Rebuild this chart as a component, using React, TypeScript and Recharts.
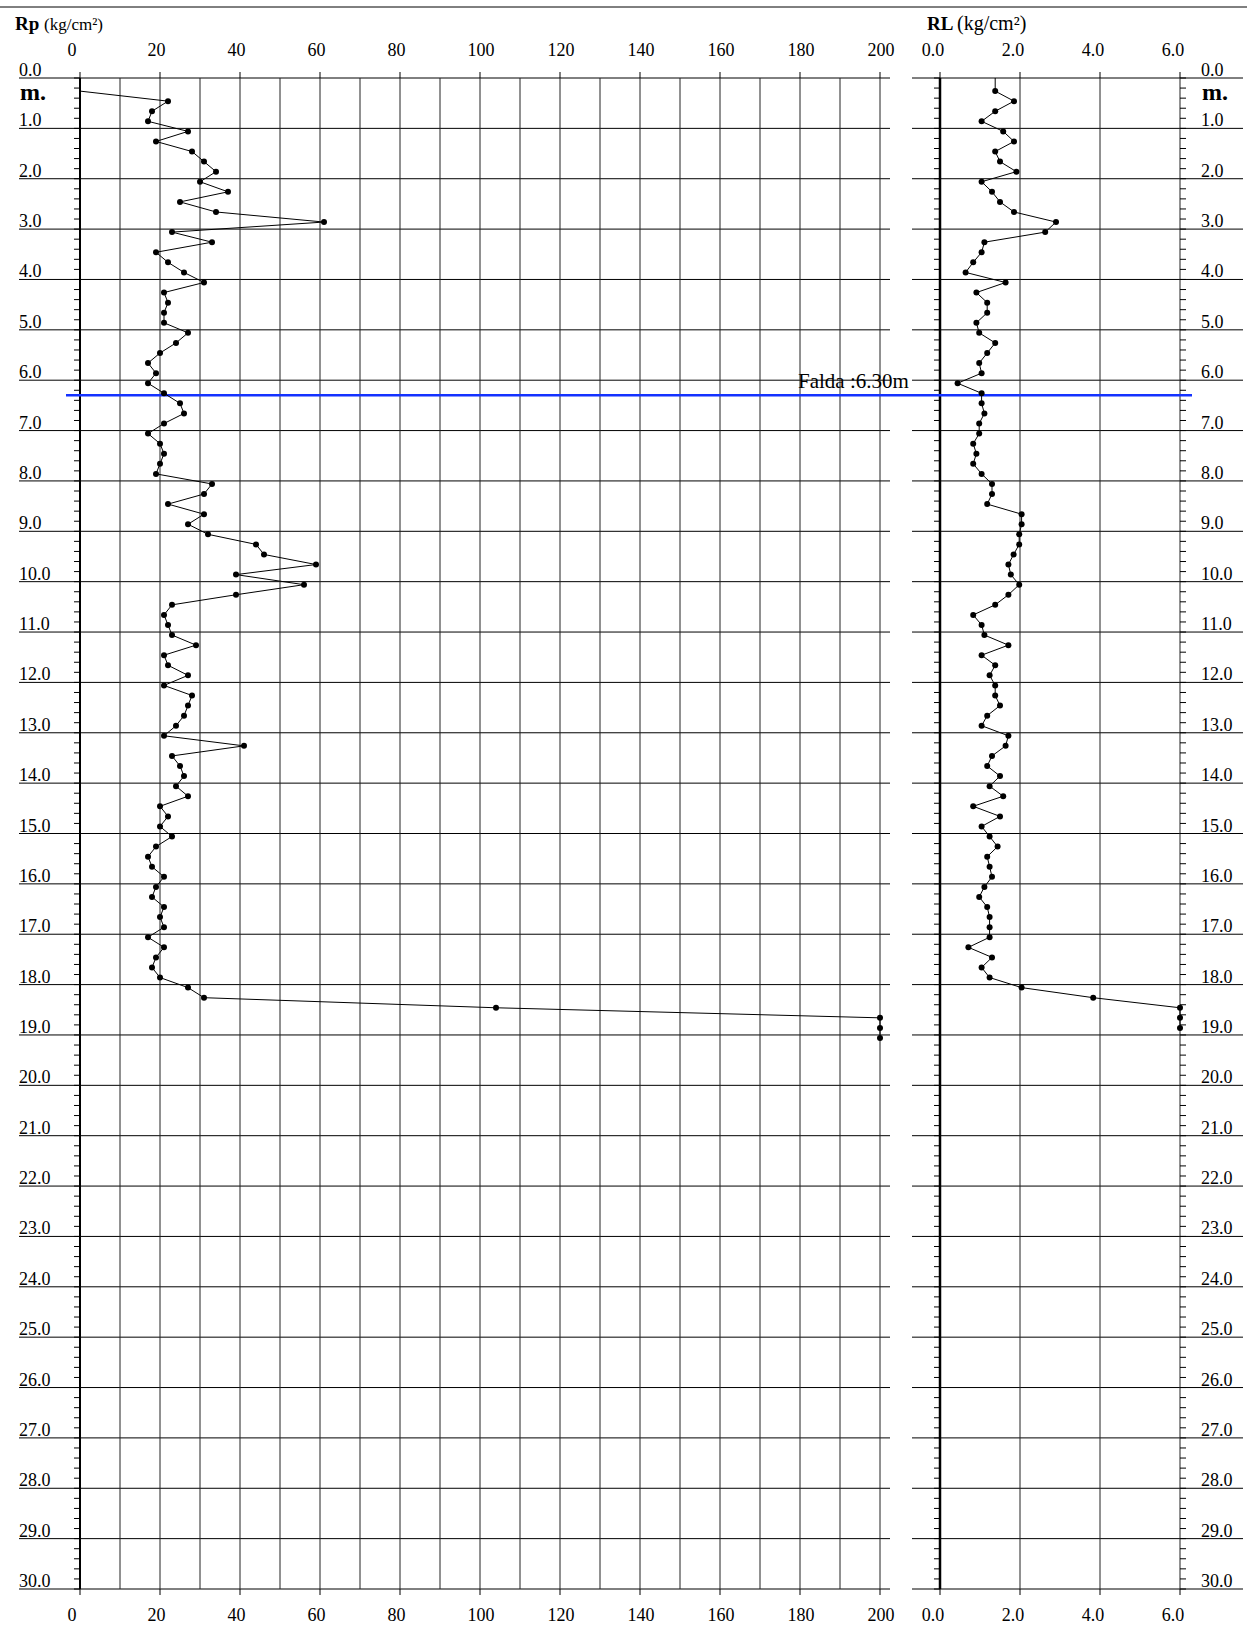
import { ScatterChart, Scatter, XAxis, YAxis, ReferenceLine } from "recharts";

// depth of each reading, m
const DEPTH = [
  0.26, 0.46, 0.66, 0.86, 1.06, 1.26, 1.46, 1.66, 1.86, 2.06,
  2.26, 2.46, 2.66, 2.86, 3.06, 3.26, 3.46, 3.66, 3.86, 4.06,
  4.26, 4.46, 4.66, 4.86, 5.06, 5.26, 5.46, 5.66, 5.86, 6.06,
  6.26, 6.46, 6.66, 6.86, 7.06, 7.26, 7.46, 7.66, 7.86, 8.06,
  8.26, 8.46, 8.66, 8.86, 9.06, 9.26, 9.46, 9.66, 9.86, 10.06,
  10.26, 10.46, 10.66, 10.86, 11.06, 11.26, 11.46, 11.66, 11.86, 12.06,
  12.26, 12.46, 12.66, 12.86, 13.06, 13.26, 13.46, 13.66, 13.86, 14.06,
  14.26, 14.46, 14.66, 14.86, 15.06, 15.26, 15.46, 15.66, 15.86, 16.06,
  16.26, 16.46, 16.66, 16.86, 17.06, 17.26, 17.46, 17.66, 17.86, 18.06,
  18.26, 18.46, 18.66, 18.86, 19.06,
];

// Rp (kg/cm²), RP[i] is read at DEPTH[i + 1]
const RP = [
  22, 18, 17, 27, 19, 28, 31, 34, 30, 37,
  25, 34, 61, 23, 33, 19, 22, 26, 31, 21,
  22, 21, 21, 27, 24, 20, 17, 19, 17, 21,
  25, 26, 21, 17, 20, 21, 20, 19, 33, 31,
  22, 31, 27, 32, 44, 46, 59, 39, 56, 39,
  23, 21, 22, 23, 29, 21, 22, 27, 21, 28,
  27, 26, 24, 21, 41, 23, 25, 26, 24, 27,
  20, 22, 20, 23, 19, 17, 18, 21, 19, 18,
  21, 20, 21, 17, 21, 19, 18, 20, 27, 31,
  104, 200, 200, 200,
];

// RL (kg/cm²), RL[i] is read at DEPTH[i]
const RL = [
  1.38, 1.85, 1.38, 1.04, 1.58, 1.85, 1.38, 1.5, 1.91, 1.04,
  1.3, 1.5, 1.85, 2.9, 2.63, 1.11, 1.04, 0.83, 0.64, 1.64,
  0.91, 1.18, 1.18, 0.91, 0.98, 1.38, 1.18, 0.98, 1.04, 0.44,
  1.04, 1.04, 1.11, 0.98, 0.98, 0.83, 0.91, 0.83, 1.04, 1.3,
  1.3, 1.18, 2.04, 2.04, 1.98, 1.98, 1.84, 1.71, 1.77, 1.98,
  1.71, 1.38, 0.83, 1.04, 1.11, 1.71, 1.04, 1.38, 1.24, 1.38,
  1.38, 1.5, 1.18, 1.04, 1.71, 1.64, 1.3, 1.18, 1.5, 1.24,
  1.58, 0.83, 1.5, 1.04, 1.24, 1.44, 1.18, 1.24, 1.3, 1.11,
  0.98, 1.18, 1.24, 1.24, 1.24, 0.71, 1.3, 1.04, 1.24, 2.04,
  3.83, 6.0, 6.0, 6.0,
];

const RP_TICKS = [0, 20, 40, 60, 80, 100, 120, 140, 160, 180, 200];
const RP_GRID = [10, 20, 30, 40, 50, 60, 70, 80, 90, 100, 110, 120, 130, 140, 150, 160, 170, 180, 190, 200];
const RL_TICKS = [0, 2, 4, 6];
const RL_GRID = [2, 4, 6];
const DEPTH_LINES = [
  0, 1, 2, 3, 4, 5, 6, 7, 8, 9, 10, 11, 12, 13, 14, 15,
  16, 17, 18, 19, 20, 21, 22, 23, 24, 25, 26, 27, 28, 29, 30,
];
const WATER_TABLE = 6.3;

// small depth ticks every 20 cm
const MINOR = Array.from({ length: 151 }, (_, i) => Math.round(i * 2) / 10);

const FONT = '"Liberation Serif", "Times New Roman", Times, serif';
const TICK_FS = 18;

const rpData = RP.map((v, i) => ({ x: v, y: DEPTH[i + 1] }));
const rlData = RL.map((v, i) => ({ x: v, y: DEPTH[i] }));
const rpLead = [{ x: 0, y: DEPTH[0] }, rpData[0]];
const rlLead = [{ x: RL[0], y: 0 }, rlData[0]];

const Dot = (p: any) => <circle cx={p.cx} cy={p.cy} r={3} fill="#000" />;
const NoDot = () => <g />;
const NoTick = () => <g />;

const isWhole = (v: number) => Math.abs(v - Math.round(v)) < 1e-6;

function depthTick(labelX: number) {
  return (p: any) => {
    const v = p.payload.value;
    if (!isWhole(v)) return <g />;
    return (
      <g>
        <text x={labelX} y={p.y - 2} fontSize={TICK_FS} fontFamily={FONT} fill="#000">
          {v.toFixed(1)}
        </text>
        {v === 0 && (
          <text x={labelX + 1} y={100} fontSize={24} fontWeight="bold" fontFamily={FONT} fill="#000">
            m.
          </text>
        )}
      </g>
    );
  };
}

const rpTopTick = (p: any) => (
  <text x={p.x - 12.5} y={56} fontSize={TICK_FS} fontFamily={FONT} textAnchor="start" fill="#000">
    {p.payload.value}
  </text>
);
const rpBottomTick = (p: any) => (
  <text x={p.x - 12.5} y={1621} fontSize={TICK_FS} fontFamily={FONT} textAnchor="start" fill="#000">
    {p.payload.value}
  </text>
);
const rlTopTick = (p: any) => (
  <text x={p.x - 7} y={56} fontSize={TICK_FS} fontFamily={FONT} textAnchor="middle" fill="#000">
    {p.payload.value.toFixed(1)}
  </text>
);
const rlBottomTick = (p: any) => (
  <text x={p.x - 7} y={1621} fontSize={TICK_FS} fontFamily={FONT} textAnchor="middle" fill="#000">
    {p.payload.value.toFixed(1)}
  </text>
);

function RpChart() {
  return (
    <ScatterChart width={910} height={1628} margin={{ top: 38, right: 30, bottom: 9, left: 70 }}>
      <XAxis
        xAxisId="top"
        orientation="top"
        type="number"
        dataKey="x"
        domain={[0, 200]}
        ticks={RP_TICKS}
        interval={0}
        height={40}
        axisLine={false}
        tickLine={{ stroke: "#000" }}
        tickSize={6}
        tick={rpTopTick}
      />
      <XAxis
        type="number"
        dataKey="x"
        domain={[0, 200]}
        ticks={RP_TICKS}
        interval={0}
        height={30}
        axisLine={false}
        tickLine={{ stroke: "#000" }}
        tickSize={6}
        tick={rpBottomTick}
      />
      <YAxis
        type="number"
        dataKey="y"
        domain={[0, 30]}
        reversed
        ticks={MINOR}
        interval={0}
        width={10}
        axisLine={false}
        tickLine={{ stroke: "#000" }}
        tickSize={6}
        tick={depthTick(19)}
      />
      {DEPTH_LINES.map((d) => (
        <ReferenceLine
          key={"h" + d}
          segment={[{ x: -15.25, y: d }, { x: 202.5, y: d }]}
          stroke="#000"
          ifOverflow="visible"
        />
      ))}
      {RP_GRID.map((v) => (
        <ReferenceLine key={"v" + v} x={v} stroke="#222" />
      ))}
      <ReferenceLine x={0} stroke="#000" strokeWidth={2} />
      <ReferenceLine
        segment={[{ x: -3.5, y: WATER_TABLE }, { x: 205, y: WATER_TABLE }]}
        stroke="#1432ff"
        strokeWidth={2.5}
        ifOverflow="visible"
      />
      {/* keeps the top axis bound to the data */}
      <Scatter xAxisId="top" data={rpData} shape={NoDot} isAnimationActive={false} />
      <Scatter data={rpLead} line={{ stroke: "#000", strokeWidth: 1 }} shape={NoDot} isAnimationActive={false} />
      <Scatter data={rpData} line={{ stroke: "#000", strokeWidth: 1 }} shape={Dot} isAnimationActive={false} />
    </ScatterChart>
  );
}

function RlChart() {
  return (
    <ScatterChart width={347} height={1628} margin={{ top: 38, right: 57, bottom: 9, left: 30 }}>
      <XAxis
        xAxisId="top"
        orientation="top"
        type="number"
        dataKey="x"
        domain={[0, 6]}
        ticks={RL_TICKS}
        interval={0}
        height={40}
        axisLine={false}
        tickLine={{ stroke: "#000" }}
        tickSize={6}
        tick={rlTopTick}
      />
      <XAxis
        type="number"
        dataKey="x"
        domain={[0, 6]}
        ticks={RL_TICKS}
        interval={0}
        height={30}
        axisLine={false}
        tickLine={{ stroke: "#000" }}
        tickSize={6}
        tick={rlBottomTick}
      />
      <YAxis
        type="number"
        dataKey="y"
        domain={[0, 30]}
        reversed
        ticks={MINOR}
        interval={0}
        width={10}
        axisLine={false}
        tickLine={{ stroke: "#000" }}
        tickSize={6}
        tick={NoTick}
      />
      <YAxis
        yAxisId="r"
        orientation="right"
        type="number"
        dataKey="y"
        domain={[0, 30]}
        reversed
        ticks={MINOR}
        interval={0}
        width={10}
        axisLine={false}
        tickLine={{ stroke: "#000" }}
        tickSize={6}
        tick={depthTick(301)}
      />
      {DEPTH_LINES.map((d) => (
        <ReferenceLine
          key={"h" + d}
          segment={[{ x: -0.7, y: d }, { x: 7.575, y: d }]}
          stroke="#000"
          ifOverflow="visible"
        />
      ))}
      {RL_GRID.map((v) => (
        <ReferenceLine key={"v" + v} x={v} stroke="#222" />
      ))}
      <ReferenceLine x={0} stroke="#000" strokeWidth={2.5} />
      <ReferenceLine
        segment={[{ x: -1, y: WATER_TABLE }, { x: 6.3, y: WATER_TABLE }]}
        stroke="#1432ff"
        strokeWidth={2.5}
        ifOverflow="visible"
      />
      {/* keeps the top and right axes bound to the data */}
      <Scatter xAxisId="top" yAxisId="r" data={rlData} shape={NoDot} isAnimationActive={false} />
      <Scatter data={rlLead} line={{ stroke: "#000", strokeWidth: 1 }} shape={NoDot} isAnimationActive={false} />
      <Scatter data={rlData} line={{ stroke: "#000", strokeWidth: 1 }} shape={Dot} isAnimationActive={false} />
    </ScatterChart>
  );
}

export default function App() {
  return (
    <div style={{ position: "absolute", left: 0, top: 0, width: 1247, height: 1628, background: "#fff" }}>
      <div style={{ position: "absolute", left: 0, top: 0 }}>
        <RpChart />
      </div>
      <div style={{ position: "absolute", left: 900, top: 0 }}>
        <RlChart />
      </div>
      <svg
        width={1247}
        height={1628}
        style={{ position: "absolute", left: 0, top: 0, pointerEvents: "none" }}
      >
        <line x1={0} y1={7} x2={1247} y2={7} stroke="#000" strokeWidth={1} />
        <text x={15} y={30} fontSize={19} fontWeight="bold" fontFamily={FONT}>Rp</text>
        <text x={44} y={30} fontSize={17} fontFamily={FONT}>(kg/cm²)</text>
        <text x={927} y={30} fontSize={19} fontWeight="bold" fontFamily={FONT}>RL</text>
        <text x={957} y={30} fontSize={20} fontFamily={FONT}>(kg/cm²)</text>
        <text x={798} y={387.5} fontSize={21} fontFamily={FONT}>Falda :6.30m</text>
      </svg>
    </div>
  );
}
